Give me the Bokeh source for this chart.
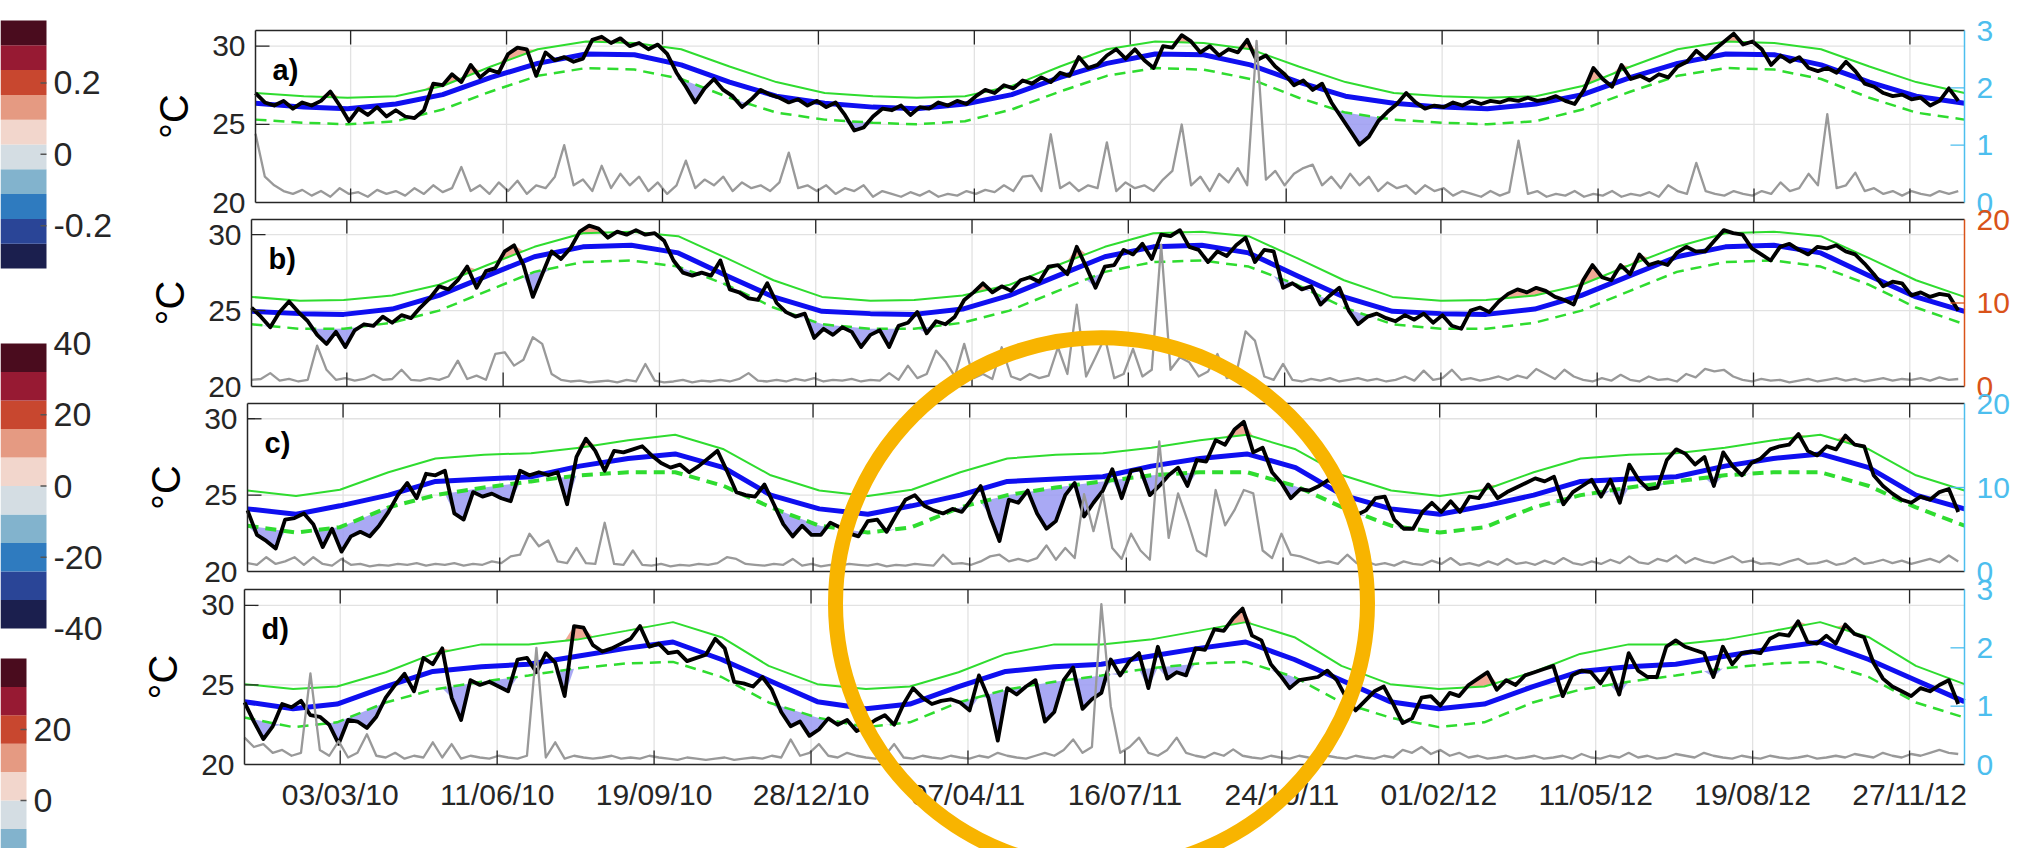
import numpy as np
import pandas as pd
from bokeh.plotting import figure
from bokeh.models import Range1d
from bokeh.layouts import row
from bokeh.embed import file_html
from bokeh.resources import INLINE
from bokeh.core.properties import value

# ---------------- data ----------------
START, END = "2010-01-01", "2013-01-01"
STEP_DAYS = 6          # sampling step of the daily series

tick_dates = ["2010-03-03", "2010-06-11", "2010-09-19", "2010-12-28", "2011-04-07", "2011-07-16",
              "2011-10-24", "2012-02-01", "2012-05-11", "2012-08-19", "2012-11-27"]
tick_labels = ["03/03/10", "11/06/10", "19/09/10", "28/12/10", "07/04/11", "16/07/11",
               "24/10/11", "01/02/12", "11/05/12", "19/08/12", "27/11/12"]

panel_labels = ["a)", "b)", "c)", "d)"]
temp_ticks = [20, 25, 30]
temp_lim = [20, 31]
right_lims = [[0, 3], [0, 20], [0, 20], [0, 3]]
right_ticks = [[0, 1, 2, 3], [0, 10, 20], [0, 10, 20], [0, 1, 2, 3]]
right_colors = ["#4DBEEE", "#D95319", "#4DBEEE", "#4DBEEE"]

temp_a = [27.0, 26.4, 26.2, 26.5, 26.0, 26.4, 26.2, 26.5, 27.1, 26.2,
          25.2, 26.0, 25.6, 26.1, 25.5, 25.9, 25.5, 25.4, 25.9, 27.6,
          27.5, 28.2, 27.7, 28.8, 28.0, 28.5, 28.3, 29.5, 29.9, 29.8,
          28.1, 29.6, 29.1, 29.3, 29.0, 29.2, 30.4, 30.6, 30.2, 30.5,
          30.0, 30.2, 29.8, 30.1, 29.5, 28.3, 27.4, 26.4, 27.3, 27.9,
          27.2, 26.8, 26.1, 26.6, 27.2, 26.9, 26.7, 26.4, 26.6, 26.2,
          26.5, 26.1, 26.4, 25.6, 24.6, 24.8, 25.5, 26.0, 25.9, 26.2,
          25.6, 26.1, 26.0, 26.4, 26.2, 26.5, 26.3, 26.8, 27.2, 27.0,
          27.5, 27.3, 27.8, 27.6, 28.0, 27.7, 28.3, 28.1, 29.3, 28.6,
          28.8, 29.4, 29.8, 29.2, 29.8, 29.1, 28.6, 30.0, 29.9, 30.7,
          30.3, 29.6, 30.0, 29.4, 29.8, 29.6, 30.4, 29.1, 29.4, 28.7,
          28.2, 27.5, 27.8, 27.2, 27.6, 26.4, 25.5, 24.6, 23.7, 24.2,
          25.2, 25.8, 26.3, 27.0, 26.4, 26.0, 26.2, 26.1, 26.4, 26.2,
          26.5, 26.3, 26.5, 26.4, 26.6, 26.5, 26.7, 26.5, 26.6, 26.8,
          26.5, 26.3, 27.2, 28.6, 27.9, 27.4, 28.8, 27.9, 28.1, 27.8,
          28.2, 28.0, 28.7, 29.0, 29.7, 29.2, 29.8, 30.3, 30.8, 30.1,
          30.3, 29.8, 28.8, 29.4, 29.0, 29.3, 28.6, 28.4, 28.6, 28.3,
          29.0, 28.4, 27.6, 27.4, 27.0, 26.8, 26.9, 26.6, 26.7, 26.2,
          26.5, 27.3, 26.5]
temp_b = [25.2, 24.6, 23.9, 24.9, 25.6, 24.9, 24.3, 23.4, 22.8, 23.6,
          22.6, 23.7, 24.1, 24.0, 24.6, 24.2, 24.7, 24.5, 25.2, 25.8,
          26.6, 26.4, 27.0, 27.9, 26.5, 27.6, 27.8, 28.9, 29.3, 28.0,
          25.9, 27.4, 28.9, 28.4, 29.1, 30.2, 30.6, 30.4, 29.8, 30.2,
          30.0, 30.3, 30.0, 30.1, 29.6, 28.3, 27.5, 27.3, 27.5, 27.3,
          28.3, 26.4, 26.2, 25.8, 25.7, 26.8, 25.5, 24.9, 24.6, 24.8,
          23.2, 23.8, 23.4, 23.9, 23.6, 22.6, 23.4, 23.7, 22.6, 24.0,
          24.2, 24.9, 23.5, 24.3, 24.1, 24.6, 25.7, 26.2, 26.8, 26.2,
          26.6, 26.3, 27.0, 27.2, 26.9, 27.9, 28.0, 27.4, 29.2, 27.9,
          26.5, 27.9, 28.0, 29.0, 28.7, 29.4, 28.4, 30.0, 29.9, 30.3,
          29.2, 29.0, 28.2, 28.9, 28.6, 29.3, 29.8, 28.2, 29.0, 28.9,
          26.5, 26.8, 26.4, 26.6, 25.4, 26.0, 26.5, 25.0, 24.1, 24.6,
          24.8, 24.5, 24.3, 24.7, 24.4, 24.8, 24.2, 24.7, 24.0, 23.8,
          25.0, 25.2, 24.9, 25.6, 26.1, 26.4, 26.2, 26.5, 26.3, 25.9,
          25.7, 25.4, 27.0, 28.0, 27.2, 27.0, 28.0, 27.4, 28.7, 28.0,
          28.2, 28.0, 28.8, 29.2, 28.9, 28.9, 29.6, 30.3, 30.1, 30.0,
          29.1, 28.7, 28.3, 29.2, 29.4, 29.0, 28.7, 29.2, 29.1, 29.3,
          28.9, 28.7, 28.1, 27.4, 26.6, 26.9, 26.8, 26.0, 26.2, 25.9,
          26.1, 26.0, 25.0]
temp_c = [24.0, 22.4, 22.0, 21.5, 23.4, 23.5, 23.8, 23.1, 21.6, 22.8,
          21.3, 22.3, 22.6, 22.3, 23.0, 23.9, 25.0, 25.8, 24.8, 26.4,
          26.3, 26.6, 23.8, 23.4, 25.2, 24.9, 25.1, 24.8, 24.6, 26.6,
          26.3, 26.5, 26.3, 26.5, 24.4, 27.5, 28.7, 27.9, 26.6, 27.9,
          27.8, 28.0, 28.2, 27.6, 27.1, 26.8, 27.0, 26.5, 26.9, 27.4,
          27.9, 26.6, 25.2, 25.0, 24.9, 25.7, 24.4, 23.1, 22.3, 23.0,
          22.4, 22.4, 23.2, 22.9, 22.5, 22.3, 23.3, 23.4, 22.6, 23.7,
          24.7, 25.0, 24.3, 24.0, 23.8, 24.1, 23.9, 24.7, 25.6, 23.6,
          22.0, 24.7, 24.5, 25.3, 23.8, 22.8, 23.3, 25.0, 25.8, 23.6,
          24.5, 25.3, 26.7, 24.8, 26.6, 26.7, 25.0, 25.6, 26.3, 26.8,
          25.6, 27.3, 27.2, 28.6, 28.3, 29.3, 29.8, 27.8, 28.1, 26.5,
          25.8, 24.8, 25.4, 25.3, 25.6, 26.0, 25.6, 24.2, 23.7, 24.0,
          24.8, 24.9, 23.4, 22.8, 22.8, 23.9, 24.5, 23.9, 24.6, 23.9,
          24.9, 24.8, 25.7, 24.8, 25.2, 25.5, 25.8, 26.1, 25.9, 26.2,
          24.4, 25.2, 25.6, 26.0, 24.9, 26.0, 24.5, 27.0, 26.0, 25.4,
          25.5, 27.3, 28.0, 27.7, 27.0, 27.5, 25.6, 27.8, 26.9, 26.3,
          27.1, 27.4, 28.0, 28.2, 28.3, 29.0, 27.9, 27.6, 28.2, 28.0,
          28.9, 28.3, 28.2, 26.3, 25.6, 25.1, 24.7, 24.5, 24.9, 24.7,
          25.2, 25.4, 23.9]
temp_d = [23.9, 22.7, 21.6, 22.4, 23.8, 23.6, 24.0, 23.1, 23.0, 22.5,
          21.3, 22.8, 22.7, 22.3, 23.0, 24.2, 25.0, 25.7, 24.6, 26.7,
          26.3, 27.3, 24.2, 22.8, 25.3, 25.0, 25.2, 24.9, 24.6, 26.6,
          26.7, 25.8, 27.0, 26.4, 24.3, 28.7, 28.6, 27.5, 27.1, 27.3,
          27.6, 27.9, 28.7, 27.4, 27.6, 27.0, 27.1, 26.5, 26.7, 26.9,
          27.9, 27.3, 25.2, 25.1, 24.9, 25.5, 24.7, 23.3, 22.4, 22.7,
          21.8, 22.2, 22.9, 22.5, 22.8, 22.1, 22.4, 22.8, 23.1, 22.5,
          23.8, 24.8, 24.2, 23.8, 24.0, 24.1, 23.9, 23.4, 25.6, 24.2,
          21.5, 24.8, 24.4, 24.9, 25.3, 22.7, 23.3, 25.3, 26.1, 23.5,
          24.1, 24.5, 26.6, 25.6, 26.5, 27.0, 24.8, 27.4, 25.4, 25.8,
          25.6, 27.3, 27.2, 28.5, 28.4, 29.2, 29.8, 28.1, 27.8, 26.3,
          25.6, 24.8, 25.3, 25.4, 25.5, 25.9, 25.3, 24.2, 23.4, 24.0,
          24.6, 24.9, 23.8, 22.6, 22.9, 24.2, 24.3, 23.7, 24.5, 24.3,
          25.0, 25.4, 25.8, 24.7, 25.3, 25.0, 25.6, 25.8, 26.0, 26.2,
          24.3, 25.6, 25.9, 25.8, 25.1, 26.0, 24.4, 27.0, 25.9, 25.5,
          25.5, 27.4, 27.8, 27.4, 27.2, 27.0, 25.5, 27.4, 26.3, 27.0,
          27.1, 27.0, 27.9, 28.2, 28.1, 29.0, 27.7, 27.6, 28.1, 27.6,
          28.8, 28.2, 28.0, 26.4, 25.4, 24.9, 24.6, 24.3, 24.8, 24.6,
          25.0, 25.3, 23.8]

grey_a = [1.2, 0.45, 0.3, 0.2, 0.15, 0.22, 0.12, 0.2, 0.1, 0.25,
          0.15, 0.18, 0.1, 0.22, 0.15, 0.2, 0.12, 0.25, 0.15, 0.3,
          0.18, 0.25, 0.62, 0.2, 0.3, 0.15, 0.35, 0.2, 0.38, 0.15,
          0.3, 0.25, 0.45, 1.0, 0.3, 0.4, 0.2, 0.64, 0.25, 0.5,
          0.3, 0.45, 0.2, 0.35, 0.15, 0.3, 0.73, 0.25, 0.4, 0.3,
          0.45, 0.2, 0.35, 0.25, 0.3, 0.2, 0.35, 0.87, 0.25, 0.3,
          0.2, 0.3, 0.15, 0.25, 0.2, 0.3, 0.1, 0.2, 0.15, 0.1,
          0.18, 0.12, 0.2, 0.1, 0.15, 0.12, 0.2, 0.15, 0.22, 0.18,
          0.3, 0.2, 0.45, 0.47, 0.2, 1.19, 0.25, 0.35, 0.2, 0.3,
          0.25, 1.05, 0.2, 0.35, 0.25, 0.3, 0.2, 0.4, 0.55, 1.36,
          0.3, 0.45, 0.2, 0.5, 0.35, 0.6, 0.3, 2.82, 0.4, 0.55,
          0.3, 0.5, 0.6, 0.66, 0.3, 0.45, 0.25, 0.5, 0.3, 0.45,
          0.2, 0.35, 0.25, 0.3, 0.15, 0.3, 0.2, 0.25, 0.12, 0.2,
          0.15, 0.1, 0.2, 0.12, 0.18, 1.08, 0.15, 0.2, 0.1, 0.15,
          0.12, 0.2, 0.1, 0.15, 0.12, 0.2, 0.1, 0.15, 0.12, 0.18,
          0.1, 0.3, 0.2, 0.15, 0.69, 0.2, 0.15, 0.12, 0.2, 0.15,
          0.12, 0.2, 0.15, 0.35, 0.2, 0.25, 0.5, 0.3, 1.54, 0.25,
          0.3, 0.52, 0.2, 0.25, 0.15, 0.2, 0.12, 0.2, 0.15, 0.12,
          0.2, 0.15, 0.2]
grey_b = [0.8, 0.9, 1.6, 0.7, 0.9, 0.6, 0.8, 4.9, 2.0, 0.8,
          1.0, 0.7, 0.9, 1.4, 0.8, 0.9, 2.0, 0.8, 0.7, 1.0,
          0.8, 1.2, 3.1, 0.9, 1.3, 0.8, 3.9, 4.1, 2.5, 3.2,
          5.9, 5.1, 1.5, 0.8, 0.6, 0.7, 0.5, 0.6, 0.7, 0.5,
          0.8, 0.6, 2.7, 0.7, 0.5, 0.6, 0.8, 0.5, 0.7, 0.6,
          0.8, 0.6, 0.9, 1.6, 0.7, 0.6, 0.8, 0.6, 0.9, 0.7,
          1.0, 0.6, 0.8, 0.7, 0.9, 0.6, 0.8, 0.7, 1.6, 0.8,
          2.5, 1.0, 1.5, 4.3, 3.0, 1.2, 5.1, 1.0, 1.5, 0.9,
          4.7, 1.2, 0.8, 1.5, 1.0, 1.3, 4.7, 1.5, 9.8, 1.2,
          3.5, 5.9, 1.0, 1.5, 4.5, 1.2, 2.0, 17.0, 2.0, 3.5,
          2.9, 1.2, 1.8, 3.9, 1.0, 1.5, 6.6, 5.5, 1.2, 0.8,
          2.7, 0.8, 0.6, 0.9, 0.7, 1.0, 0.6, 0.8, 1.0, 0.7,
          0.9, 0.6, 0.8, 1.2, 0.7, 1.9, 0.8, 1.0, 2.0, 0.8,
          1.0, 0.7, 0.9, 1.2, 0.8, 1.3, 1.0, 2.1, 1.5, 0.9,
          2.0, 1.2, 0.8, 0.6, 1.0, 0.7, 1.4, 0.8, 0.6, 1.2,
          0.8, 0.9, 0.6, 1.5, 1.1, 2.1, 1.8, 2.0, 1.2, 0.8,
          0.6, 0.9, 0.7, 0.8, 0.5, 0.7, 0.9, 0.6, 0.8, 1.0,
          0.7, 0.9, 0.6, 0.8, 1.0, 0.7, 0.9, 0.8, 1.0, 0.7,
          1.1, 0.8, 0.9]
grey_c = [1.0, 0.8, 1.7, 0.9, 1.2, 1.7, 0.8, 1.7, 0.9, 0.7,
          1.5, 0.8, 0.9, 0.6, 0.8, 0.7, 0.9, 0.8, 1.0, 0.7,
          0.9, 0.8, 1.0, 0.7, 0.9, 0.8, 1.2, 1.0, 1.8, 2.0,
          4.5, 3.0, 3.7, 1.2, 1.0, 2.8, 1.0, 0.9, 5.8, 0.9,
          0.8, 2.5, 0.8, 0.7, 0.9, 0.6, 0.8, 0.7, 0.9, 0.8,
          1.0, 1.7, 1.5, 0.9, 0.8, 0.7, 0.9, 0.8, 1.5, 0.7,
          0.9, 0.6, 0.8, 0.7, 0.9, 0.8, 0.7, 0.9, 0.6, 0.8,
          0.7, 0.9, 0.8, 0.7, 2.0, 0.9, 1.0, 0.8, 1.2, 1.8,
          2.0, 1.2, 1.5, 1.2, 1.6, 3.1, 1.4, 2.8, 1.6, 9.2,
          4.8, 9.2, 2.8, 1.5, 4.5, 2.5, 1.4, 15.5, 4.0, 9.3,
          6.1, 2.5, 1.8, 9.7, 5.5, 7.3, 9.7, 9.3, 2.5, 1.6,
          4.5, 2.0, 1.8, 1.4, 1.0, 1.2, 0.9, 2.0, 1.0, 1.2,
          0.8, 1.0, 0.7, 1.2, 0.9, 0.8, 1.3, 0.9, 1.6, 0.8,
          1.0, 0.7, 1.2, 0.8, 1.5, 0.9, 1.1, 0.8, 1.3, 0.9,
          1.6, 1.0, 0.8, 1.2, 0.9, 1.4, 1.0, 1.8, 1.1, 0.9,
          1.5, 1.2, 1.9, 1.0, 1.6, 1.2, 1.0, 1.4, 1.8, 1.1,
          1.3, 0.9, 1.0, 0.8, 1.2, 1.5, 0.9, 1.0, 1.3, 0.8,
          1.0, 1.6, 0.9, 1.1, 1.4, 1.0, 1.3, 0.9, 1.2, 1.5,
          1.1, 1.9, 1.2]
grey_d = [0.46, 0.3, 0.35, 0.2, 0.25, 0.15, 0.2, 1.56, 0.25, 0.15,
          0.4, 0.12, 0.2, 0.52, 0.15, 0.12, 0.2, 0.1, 0.15, 0.12,
          0.38, 0.12, 0.35, 0.1, 0.15, 0.12, 0.1, 0.15, 0.12, 0.1,
          0.15, 2.0, 0.12, 0.38, 0.1, 0.15, 0.12, 0.1, 0.12, 0.15,
          0.1, 0.12, 0.1, 0.15, 0.12, 0.1, 0.08, 0.12, 0.1, 0.08,
          0.1, 0.12, 0.08, 0.1, 0.12, 0.1, 0.15, 0.12, 0.43, 0.15,
          0.2, 0.35, 0.15, 0.12, 0.2, 0.15, 0.12, 0.1, 0.15, 0.35,
          0.12, 0.1, 0.15, 0.12, 0.1, 0.15, 0.12, 0.1, 0.15, 0.12,
          0.2, 0.15, 0.12, 0.1, 0.15, 0.2, 0.15, 0.25, 0.43, 0.2,
          0.3, 2.75, 1.0, 0.2, 0.3, 0.46, 0.2, 0.15, 0.25, 0.46,
          0.2, 0.15, 0.12, 0.2, 0.15, 0.26, 0.15, 0.12, 0.1, 0.15,
          0.12, 0.1, 0.15, 0.12, 0.1, 0.15, 0.12, 0.1, 0.15, 0.12,
          0.1, 0.15, 0.12, 0.25, 0.2, 0.3, 0.18, 0.25, 0.15, 0.2,
          0.12, 0.15, 0.1, 0.12, 0.15, 0.1, 0.12, 0.15, 0.1, 0.12,
          0.15, 0.1, 0.18, 0.12, 0.1, 0.15, 0.12, 0.2, 0.12, 0.15,
          0.1, 0.12, 0.18, 0.15, 0.12, 0.2, 0.15, 0.12, 0.1, 0.15,
          0.12, 0.1, 0.15, 0.12, 0.1, 0.12, 0.15, 0.1, 0.12, 0.15,
          0.12, 0.18, 0.15, 0.12, 0.2, 0.15, 0.12, 0.18, 0.15, 0.2,
          0.25, 0.2, 0.18]

# monthly (1st of each month, Jan 2010 .. Jan 2013) climatology and thresholds
clim_a = [26.35, 26.1, 26.0, 26.3, 26.9, 28.0, 28.9, 29.5, 29.45, 28.8, 27.7, 26.8,
          26.35, 26.1, 26.0, 26.3, 26.9, 28.0, 28.9, 29.5, 29.45, 28.8, 27.7, 26.8,
          26.35, 26.1, 26.0, 26.3, 26.9, 28.0, 28.9, 29.5, 29.45, 28.8, 27.7, 26.8, 26.35]
up_a = [27.0, 26.8, 26.7, 26.8, 27.45, 28.7, 29.8, 30.3, 30.2, 29.8, 28.7, 27.7,
        27.0, 26.8, 26.7, 26.8, 27.45, 28.7, 29.8, 30.3, 30.2, 29.8, 28.7, 27.7,
        27.0, 26.8, 26.7, 26.8, 27.45, 28.7, 29.8, 30.3, 30.2, 29.8, 28.7, 27.7, 27.0]
dn_a = [25.3, 25.1, 25.0, 25.2, 25.95, 27.1, 28.1, 28.6, 28.5, 27.9, 26.7, 25.75,
        25.3, 25.1, 25.0, 25.2, 25.95, 27.1, 28.1, 28.6, 28.5, 27.9, 26.7, 25.75,
        25.3, 25.1, 25.0, 25.2, 25.95, 27.1, 28.1, 28.6, 28.5, 27.9, 26.7, 25.75, 25.3]
clim_b = [24.95, 24.8, 24.75, 25.1, 26.0, 27.3, 28.55, 29.2, 29.3, 28.8, 27.3, 25.9,
          24.95, 24.8, 24.75, 25.1, 26.0, 27.3, 28.55, 29.2, 29.3, 28.8, 27.3, 25.9,
          24.95, 24.8, 24.75, 25.1, 26.0, 27.3, 28.55, 29.2, 29.3, 28.8, 27.3, 25.9, 24.95]
up_b = [25.9, 25.65, 25.7, 26.0, 26.7, 28.0, 29.2, 30.1, 30.2, 29.9, 28.45, 27.0,
        25.9, 25.65, 25.7, 26.0, 26.7, 28.0, 29.2, 30.1, 30.2, 29.9, 28.45, 27.0,
        25.9, 25.65, 25.7, 26.0, 26.7, 28.0, 29.2, 30.1, 30.2, 29.9, 28.45, 27.0, 25.9]
dn_b = [24.1, 23.8, 23.8, 24.2, 25.0, 26.3, 27.55, 28.2, 28.3, 27.9, 26.7, 25.2,
        24.1, 23.8, 23.8, 24.2, 25.0, 26.3, 27.55, 28.2, 28.3, 27.9, 26.7, 25.2,
        24.1, 23.8, 23.8, 24.2, 25.0, 26.3, 27.55, 28.2, 28.3, 27.9, 26.7, 25.2, 24.1]
clim_c = [24.1, 23.75, 24.3, 25.0, 25.9, 26.05, 26.2, 26.9, 27.4, 27.7, 26.8, 25.0,
          24.1, 23.75, 24.3, 25.0, 25.9, 26.05, 26.2, 26.9, 27.4, 27.7, 26.8, 25.0,
          24.1, 23.75, 24.3, 25.0, 25.9, 26.05, 26.2, 26.9, 27.4, 27.7, 26.8, 25.0, 24.1]
up_c = [25.3, 24.95, 25.35, 26.5, 27.4, 27.65, 27.75, 28.1, 28.6, 28.95, 28.0, 26.3,
        25.3, 24.95, 25.35, 26.5, 27.4, 27.65, 27.75, 28.1, 28.6, 28.95, 28.0, 26.3,
        25.3, 24.95, 25.35, 26.5, 27.4, 27.65, 27.75, 28.1, 28.6, 28.95, 28.0, 26.3, 25.3]
dn_c = [23.0, 22.55, 22.9, 24.2, 25.0, 25.5, 25.9, 26.3, 26.5, 26.5, 25.6, 24.2,
        23.0, 22.55, 22.9, 24.2, 25.0, 25.5, 25.9, 26.3, 26.5, 26.5, 25.6, 24.2,
        23.0, 22.55, 22.9, 24.2, 25.0, 25.5, 25.9, 26.3, 26.5, 26.5, 25.6, 24.2, 23.0]
clim_d = [23.95, 23.5, 23.8, 24.9, 25.85, 26.15, 26.3, 26.8, 27.3, 27.7, 26.6, 25.3,
          23.95, 23.5, 23.8, 24.9, 25.85, 26.15, 26.3, 26.8, 27.3, 27.7, 26.6, 25.3,
          23.95, 23.5, 23.8, 24.9, 25.85, 26.15, 26.3, 26.8, 27.3, 27.7, 26.6, 25.3, 23.95]
up_d = [25.05, 24.75, 24.9, 25.8, 26.95, 27.55, 27.55, 27.85, 28.4, 28.95, 28.0, 26.2,
        25.05, 24.75, 24.9, 25.8, 26.95, 27.55, 27.55, 27.85, 28.4, 28.95, 28.0, 26.2,
        25.05, 24.75, 24.9, 25.8, 26.95, 27.55, 27.55, 27.85, 28.4, 28.95, 28.0, 26.2, 25.05]
dn_d = [22.95, 22.35, 22.65, 23.9, 24.7, 25.2, 25.6, 26.05, 26.35, 26.45, 25.5, 23.9,
        22.95, 22.35, 22.65, 23.9, 24.7, 25.2, 25.6, 26.05, 26.35, 26.45, 25.5, 23.9,
        22.95, 22.35, 22.65, 23.9, 24.7, 25.2, 25.6, 26.05, 26.35, 26.45, 25.5, 23.9, 22.95]

# colour bars on the left
cb_palette = ["#1b1f4e", "#2a4597", "#2f7bbf", "#82b3cd", "#d4dde3",
              "#f2d6cc", "#e59a82", "#c8472f", "#971a33", "#4a0c1e"]
cb_limits = [[-0.32, 0.375], [-40, 40], [-40, 40]]
cb_ticks = [[0.2, 0, -0.2], [40, 20, 0, -20, -40], [20, 0]]
cb_tick_labels = [["0.2", "0", "-0.2"], ["40", "20", "0", "-20", "-40"], ["20", "0"]]

# ---------------- layout (page pixels; Bokeh's page template has no body margin) ----------------
W, H = 2040, 848
OFF = 0
WL = 130
RIGHT = 1964
PANELS = [(255, 30, 202), (251, 219, 386), (247, 403, 571), (244, 589, 764)]   # left, top, bottom
CB_BOX = [(0, 46, 20, 268), (0, 46, 343, 628), (0, 26, 658, 942)]              # x0, x1, top, bottom
CIRCLE = dict(x=1101, y=603, w=532, h=532)

FONT = value("Liberation Sans")
AX = "#262626"
GRID = "#e2e2e2"
BLUE = "#0f0ff0"
GREEN = "#2fdc2f"
GREY = "#999999"

def ms(s):
    return (pd.Timestamp(s) - pd.Timestamp("1970-01-01")) / pd.Timedelta(milliseconds=1)

T0, T1 = ms(START), ms(END)
DAY = 86400000.0
month_x = np.array([ms(d) for d in pd.date_range(START, END, freq="MS")])
tick_x = np.array([ms(d) for d in tick_dates])

def span(v0, v1, p0, p1, f0, f1):
    k = (v1 - v0) / (p1 - p0)
    return Range1d(start=v0 + (f0 - p0) * k, end=v0 + (f1 - p0) * k)

def bare(width, x0):
    f = figure(width=width, height=H, x_range=Range1d(x0, x0 + width), y_range=Range1d(OFF + H, OFF),
               x_axis_type=None, y_axis_type=None, min_border=0, outline_line_color=None,
               toolbar_location=None, output_backend="svg")
    f.background_fill_color = "white"
    f.border_fill_color = "white"
    return f

# ---------------- colour bars ----------------
L = bare(WL, OFF)
for j, (lim, ticks, labs, box) in enumerate(zip(cb_limits, cb_ticks, cb_tick_labels, CB_BOX)):
    x0, x1, top, bot = box
    rn = f"cb{j}"
    L.extra_y_ranges[rn] = span(lim[0], lim[1], bot, top, OFF + H, OFF)
    lev = np.linspace(lim[0], lim[1], len(cb_palette) + 1)
    L.quad(left=x0, right=x1, bottom=lev[:-1], top=lev[1:], fill_color=cb_palette,
           line_color=None, y_range_name=rn)
    inner = [t for t in ticks if lim[0] < t < lim[1]]
    L.ray(x=x1, y=inner, length=6, length_units="screen", angle=np.pi,
          line_color="#555555", line_width=1.5, y_range_name=rn)
    L.text(x=x1 + 7, y=ticks, text=labs, text_align="left", text_baseline="middle",
           text_font=FONT, text_font_size="34px", text_color=AX, y_range_name=rn)

# ---------------- panels ----------------
M = bare(W - WL, OFF + WL)
series = [
    (temp_a, grey_a, clim_a, up_a, dn_a, 2.5),
    (temp_b, grey_b, clim_b, up_b, dn_b, 2.5),
    (temp_c, grey_c, clim_c, up_c, dn_c, 4.0),
    (temp_d, grey_d, clim_d, up_d, dn_d, 2.5),
]
for i, ((pl, pt, pb), (temp, grey, clim, up, dn, dnw)) in enumerate(zip(PANELS, series)):
    xr, yr, gr = f"x{i}", f"t{i}", f"g{i}"
    M.extra_x_ranges[xr] = span(T0, T1, pl, RIGHT, OFF + WL, OFF + W)
    M.extra_y_ranges[yr] = span(temp_lim[0], temp_lim[1], pb, pt, OFF + H, OFF)
    M.extra_y_ranges[gr] = span(right_lims[i][0], right_lims[i][1], pb, pt, OFF + H, OFF)
    kw = dict(x_range_name=xr, y_range_name=yr)
    gk = dict(x_range_name=xr, y_range_name=gr)
    rc = right_colors[i]

    # grid
    M.segment(x0=tick_x, y0=temp_lim[0], x1=tick_x, y1=temp_lim[1], line_color=GRID, line_width=1.3, **kw)
    M.segment(x0=T0, y0=temp_ticks[1:], x1=T1, y1=temp_ticks[1:], line_color=GRID, line_width=1.3, **kw)

    tx = T0 + np.arange(len(temp)) * STEP_DAYS * DAY
    t = np.array(temp, dtype=float)
    dn_i = np.interp(tx, month_x, dn)
    up_i = np.interp(tx, month_x, up)
    M.varea(x=tx, y1=np.minimum(t, dn_i), y2=dn_i, fill_color="#9a9af2", fill_alpha=0.85, **kw)
    M.varea(x=tx, y1=up_i, y2=np.maximum(t, up_i), fill_color="#f0a08a", fill_alpha=0.9, **kw)

    M.line(month_x, up, line_color=GREEN, line_width=2, **kw)
    M.line(month_x, dn, line_color=GREEN, line_width=dnw, line_dash="11 7", **kw)
    M.line(month_x, clim, line_color=BLUE, line_width=5, line_join="round", **kw)
    M.line(tx, t, line_color="black", line_width=3.8, line_join="round", **kw)

    gx = T0 + np.arange(len(grey)) * STEP_DAYS * DAY
    M.line(gx, grey, line_color=GREY, line_width=2.3, line_join="round", **gk)

    # axes box and ticks
    M.segment(x0=[T0, T0, T0], y0=[20, 31, 20], x1=[T0, T1, T1], y1=[31, 31, 20],
              line_color=AX, line_width=1.5, **kw)
    M.segment(x0=T1, y0=20, x1=T1, y1=31, line_color=rc, line_width=1.5, **kw)
    M.ray(x=tick_x, y=31, length=14, length_units="screen", angle=-np.pi / 2, line_color=AX, line_width=1.3, **kw)
    M.ray(x=tick_x, y=20, length=14, length_units="screen", angle=np.pi / 2, line_color=AX, line_width=1.3, **kw)
    M.ray(x=T0, y=temp_ticks[1:], length=14, length_units="screen", angle=0, line_color=AX, line_width=1.3, **kw)
    rin = [v for v in right_ticks[i] if right_lims[i][0] < v < right_lims[i][1]]
    M.ray(x=T1, y=rin, length=14, length_units="screen", angle=np.pi, line_color=rc, line_width=1.3, **gk)

    # tick labels
    M.text(x=T0, y=temp_ticks, text=[str(v) for v in temp_ticks], x_offset=-10, text_align="right",
           text_baseline="middle", text_font=FONT, text_font_size="30px", text_color=AX, **kw)
    M.text(x=T1, y=right_ticks[i], text=[str(v) for v in right_ticks[i]], x_offset=12, text_align="left",
           text_baseline="middle", text_font=FONT, text_font_size="30px", text_color=rc, **gk)
    M.text(x=T0, y=31, text=[panel_labels[i]], x_offset=17, y_offset=39, text_align="left",
           text_baseline="middle", text_font=FONT, text_font_style="bold", text_font_size="29px",
           text_color="black", **kw)
    M.text(x=T0, y=25.5, text=["°C"], x_offset=-82, angle=np.pi / 2, text_align="center",
           text_baseline="middle", text_font=FONT, text_font_size="40px", text_color="black", **kw)

    if i == len(PANELS) - 1:
        M.text(x=tick_x, y=20, text=tick_labels, y_offset=30, text_align="center", text_baseline="middle",
               text_font=FONT, text_font_size="30px", text_color=AX, **kw)

# highlight circle
M.ellipse(x=[CIRCLE["x"]], y=[CIRCLE["y"]], width=CIRCLE["w"], height=CIRCLE["h"],
          width_units="screen", height_units="screen", fill_alpha=0,
          line_color="#F8B400", line_width=15)

page = row(L, M)
open("out.html", "w").write(file_html(page, INLINE))
